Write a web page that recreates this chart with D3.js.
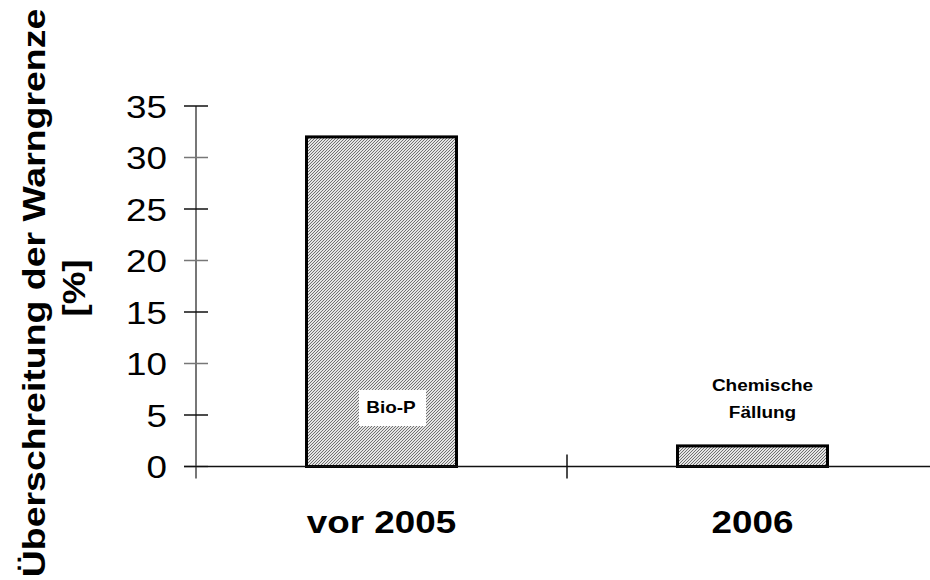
<!DOCTYPE html>
<html><head><meta charset="utf-8">
<script src="https://cdn.jsdelivr.net/npm/d3@7"></script>
<style>body{margin:0;background:#fff}svg{display:block}text{font-family:"Liberation Sans",Arial,sans-serif}</style>
</head><body>
<svg id="c" width="930" height="580"></svg>
<script>
const categories = ["vor 2005", "2006"];
const values = [32, 2];
const barLabels = [["Bio-P"], ["Chemische", "Fällung"]];
const yTicks = [0, 5, 10, 15, 20, 25, 30, 35];
const yTitle = ["Überschreitung der Warngrenze", "[%]"];

const svg = d3.select("#c");
const SX = 1.15;
const x0 = 196, x1 = 938, yTop = 106, yBot = 466.5;
const x = d3.scaleBand().domain(categories).range([x0, x1]).paddingInner(0).paddingOuter(0);
const y = d3.scaleLinear().domain([0, 35]).range([yBot, yTop]);

function stext(parent, px, py, str, size, weight, anchor, rot, sx) {
  const g = parent.append("g").attr("transform", `translate(${px},${py})` + (rot ? ` rotate(${rot})` : "") + ` scale(${sx || SX},1)`);
  g.append("text").attr("text-anchor", anchor).attr("font-size", size)
    .attr("font-weight", weight).attr("fill", "#000").text(str);
  return g;
}

const defs = svg.append("defs");
const pat = defs.append("pattern").attr("id", "hatch").attr("patternUnits", "userSpaceOnUse")
  .attr("width", 3).attr("height", 3);
pat.append("rect").attr("width", 3).attr("height", 3).attr("fill", "#e4e4e4");
pat.append("path").attr("d", "M-1,1 l2,-2 M0,3 l3,-3 M2,4 l2,-2").attr("stroke", "#707070").attr("stroke-width", 1);

// bars
const bw = 150;
svg.selectAll("rect.bar").data(values).join("rect").attr("class", "bar")
  .attr("x", (d, i) => x(categories[i]) + x.bandwidth() / 2 - bw / 2)
  .attr("y", d => y(d))
  .attr("width", bw)
  .attr("height", d => y(0) - y(d))
  .attr("fill", "url(#hatch)").attr("stroke", "#000").attr("stroke-width", 3);

// y axis
svg.append("line").attr("x1", x0).attr("x2", x0).attr("y1", y(35)).attr("y2", yBot + 12)
  .attr("stroke", "#777").attr("stroke-width", 2);
svg.selectAll("line.yt").data(yTicks).join("line").attr("class", "yt")
  .attr("x1", x0 - 12).attr("x2", x0 + 12).attr("y1", d => y(d)).attr("y2", d => y(d))
  .attr("stroke", (d, i) => i % 2 ? "#111" : "#777").attr("stroke-width", 1.5);
yTicks.forEach(t => stext(svg, 167, y(t) + 11.5, String(t), 32, "normal", "end"));

// x axis
svg.append("line").attr("x1", x0 - 12).attr("x2", x1).attr("y1", yBot).attr("y2", yBot)
  .attr("stroke", "#111").attr("stroke-width", 1.5);
svg.selectAll("line.xsep").data(categories.slice(1)).join("line").attr("class", "xsep")
  .attr("x1", d => x(d)).attr("x2", d => x(d)).attr("y1", yBot - 12).attr("y2", yBot + 12)
  .attr("stroke", "#111").attr("stroke-width", 1.5);
categories.forEach(c => stext(svg, x(c) + x.bandwidth() / 2, 533, c, 32, "bold", "middle"));

// bar labels
svg.append("rect").attr("x", 359).attr("y", 390).attr("width", 67).attr("height", 36).attr("fill", "#fff");
stext(svg, 391, 413, barLabels[0][0], 16.5, "bold", "middle");
const cx1 = x(categories[1]) + x.bandwidth() / 2 + 10;
barLabels[1].forEach((t, i) => stext(svg, cx1, 391 + i * 27, t, 16.5, "bold", "middle"));

// y title
stext(svg, 45, 293, yTitle[0], 32, "bold", "middle", -90, 1.17);
stext(svg, 85, 288, yTitle[1], 32, "bold", "middle", -90);
</script>
</body></html>
